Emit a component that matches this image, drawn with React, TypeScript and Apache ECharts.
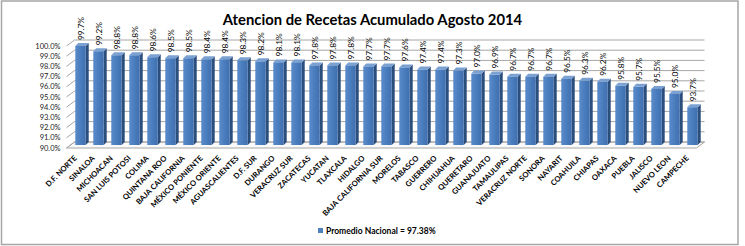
import { useEffect, useRef } from 'react';
import * as echarts from 'echarts';

const TITLE = 'Atencion de Recetas Acumulado Agosto 2014';
const SERIES_NAME = 'Promedio Nacional = 97.38%';

const CATEGORIES = [
  'D.F. NORTE', 'SINALOA', 'MICHOACAN', 'SAN LUIS POTOSI', 'COLIMA',
  'QUINTANA ROO', 'BAJA CALIFORNIA', 'MÉXICO PONIENTE', 'MÉXICO ORIENTE', 'AGUASCALIENTES',
  'D.F. SUR', 'DURANGO', 'VERACRUZ SUR', 'ZACATECAS', 'YUCATAN',
  'TLAXCALA', 'HIDALGO', 'BAJA CALIFORNIA SUR', 'MORELOS', 'TABASCO',
  'GUERRERO', 'CHIHUAHUA', 'QUERETARO', 'GUANAJUATO', 'TAMAULIPAS',
  'VERACRUZ NORTE', 'SONORA', 'NAYARIT', 'COAHUILA', 'CHIAPAS',
  'OAXACA', 'PUEBLA', 'JALISCO', 'NUEVO LEON', 'CAMPECHE',
];

const VALUES = [
  99.7, 99.2, 98.8, 98.8, 98.6,
  98.5, 98.5, 98.4, 98.4, 98.3,
  98.2, 98.1, 98.1, 97.8, 97.8,
  97.8, 97.7, 97.7, 97.6, 97.4,
  97.4, 97.3, 97.0, 96.9, 96.7,
  96.7, 96.7, 96.5, 96.3, 96.2,
  95.8, 95.7, 95.5, 95.0, 93.7,
];

const Y_MIN = 90;
const Y_MAX = 100;
const Y_STEP = 1;

// pseudo-3D geometry (pixels)
const WALL_DX = 8;
const WALL_DY = -6;
const BAR_DX = 5;
const BAR_DY = -3;
const BAR_DEPTH = 3;
const BAR_WIDTH_RATIO = 0.58;
const LABEL_GAP = 3;

const FONT = 'Lato, "Liberation Sans", sans-serif';

export default function App() {
  const ref = useRef<HTMLDivElement>(null);

  useEffect(() => {
    if (!ref.current) return;
    const chart = echarts.init(ref.current, undefined, { renderer: 'svg' });

    // back wall, left wall and floor of the 3D box
    const frameRender = (params: any, api: any) => {
      const cs = params.coordSys;
      const children: any[] = [];
      const xl = cs.x;
      const xr = cs.x + cs.width;
      const yb = api.coord([0, Y_MIN])[1];
      children.push({
        type: 'polygon',
        shape: {
          points: [
            [xl, yb], [xr, yb], [xr + WALL_DX, yb + WALL_DY], [xl + WALL_DX, yb + WALL_DY],
          ],
        },
        style: { fill: '#FAFAFA', stroke: '#A6A6A6', lineWidth: 1 },
      });
      for (let t = Y_MIN; t <= Y_MAX + 1e-9; t += Y_STEP) {
        const y = api.coord([0, t])[1];
        children.push({
          type: 'line',
          shape: { x1: xl + WALL_DX, y1: y + WALL_DY, x2: xr + WALL_DX, y2: y + WALL_DY },
          style: { stroke: '#A6A6A6', lineWidth: 1 },
        });
        children.push({
          type: 'line',
          shape: { x1: xl, y1: y, x2: xl + WALL_DX, y2: y + WALL_DY },
          style: { stroke: '#A6A6A6', lineWidth: 1 },
        });
      }
      return { type: 'group', children };
    };

    // 3D column: side face, top face, front face, and its value label
    const barRender = (params: any, api: any) => {
      const idx = api.value(0);
      const v = api.value(1);
      const top = api.coord([idx, v]);
      const base = api.coord([idx, Y_MIN]);
      const bw = api.size([1, 0])[0] * BAR_WIDTH_RATIO;
      const x0 = top[0] - bw / 2 + BAR_DX;
      const x1 = x0 + bw;
      const yt = top[1] + BAR_DY;
      const yb = base[1] + BAR_DY;
      const d = BAR_DEPTH;
      return {
        type: 'group',
        children: [
          {
            type: 'polygon',
            shape: { points: [[x1, yt], [x1 + d, yt - d], [x1 + d, yb - d], [x1, yb]] },
            style: { fill: '#2C4E7C' },
          },
          {
            type: 'polygon',
            shape: { points: [[x0, yt], [x0 + d, yt - d], [x1 + d, yt - d], [x1, yt]] },
            style: { fill: '#7BA0D2' },
          },
          {
            type: 'rect',
            shape: { x: x0, y: yt, width: bw, height: yb - yt },
            style: {
              fill: new echarts.graphic.LinearGradient(0, 0, 1, 0, [
                { offset: 0, color: '#5A8BCB' },
                { offset: 0.5, color: '#4A7DBE' },
                { offset: 1, color: '#3F6FAE' },
              ]),
            },
          },
          {
            type: 'group',
            x: (x0 + x1) / 2,
            y: yt - d - LABEL_GAP,
            rotation: Math.PI / 2,
            children: [
              {
                type: 'text',
                x: 0,
                y: 0,
                style: {
                  text: v.toFixed(1) + '%',
                  fill: '#000',
                  fontFamily: FONT,
                  fontSize: 8.3,
                  align: 'left',
                  verticalAlign: 'middle',
                },
              },
            ],
          },
        ],
      };
    };

    chart.setOption({
      animation: false,
      backgroundColor: '#fff',
      title: {
        text: TITLE,
        left: 'center',
        top: 6,
        textStyle: { fontFamily: FONT, fontSize: 14.8, fontWeight: 'bold', color: '#000' },
      },
      graphic: [
        {
          type: 'rect',
          shape: { x: 1.5, y: 1, width: 736.5, height: 243.5 },
          style: { fill: 'none', stroke: '#A6A6A6', lineWidth: 1.5 },
          silent: true,
        },
      ],
      legend: {
        left: 318,
        top: 226,
        padding: 0,
        itemWidth: 5,
        itemHeight: 5,
        itemGap: 4,
        icon: 'rect',
        data: [SERIES_NAME],
        textStyle: { fontFamily: FONT, fontSize: 8.5, fontWeight: 'bold', color: '#000', padding: [0, 0, 0, -2] },
      },
      grid: { left: 66.5, right: 48.5, top: 46, bottom: 98, containLabel: false },
      xAxis: {
        type: 'category',
        data: CATEGORIES,
        axisLine: { show: false },
        axisTick: { show: false },
        splitLine: { show: false },
        axisLabel: {
          interval: 0,
          rotate: 45,
          margin: 9,
          fontFamily: FONT,
          fontSize: 7.6,
          fontWeight: 'bold',
          color: '#000',
        },
      },
      yAxis: {
        type: 'value',
        min: Y_MIN,
        max: Y_MAX,
        interval: Y_STEP,
        axisLine: { show: false },
        axisTick: { show: false },
        splitLine: { show: false },
        axisLabel: {
          margin: 6,
          fontFamily: FONT,
          fontSize: 7.5,
          color: '#222',
          formatter: (v: number) => v.toFixed(1) + '%',
        },
      },
      series: [
        {
          type: 'custom',
          name: 'frame',
          silent: true,
          z: 1,
          renderItem: frameRender,
          data: [[0, Y_MIN]],
          encode: { x: 0, y: 1 },
        },
        {
          type: 'custom',
          name: SERIES_NAME,
          z: 2,
          itemStyle: { color: '#4F81BD' },
          renderItem: barRender,
          data: VALUES.map((v, i) => [i, v]),
          encode: { x: 0, y: 1 },
        },
      ],
    });

    return () => chart.dispose();
  }, []);

  return (
    <div
      ref={ref}
      style={{ position: 'absolute', left: 0, top: 0, width: 745, height: 246 }}
    />
  );
}
